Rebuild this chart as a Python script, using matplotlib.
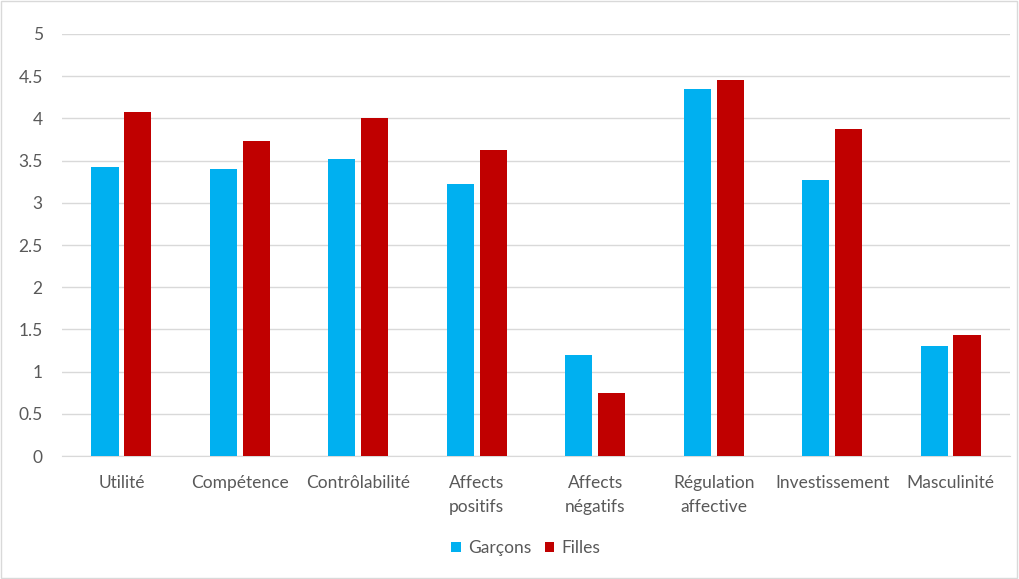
import matplotlib.pyplot as plt
import numpy as np

categories = ['Utilité', 'Compétence', 'Contrôlabilité', 'Affects\npositifs',
              'Affects\nnégatifs', 'Régulation\naffective', 'Investissement', 'Masculinité']
garcons = [3.42, 3.40, 3.52, 3.22, 1.20, 4.35, 3.27, 1.30]
filles = [4.08, 3.73, 4.00, 3.63, 0.75, 4.45, 3.87, 1.43]
yticks = [0, 0.5, 1, 1.5, 2, 2.5, 3, 3.5, 4, 4.5, 5]

plt.rcParams['font.family'] = ['Lato', 'DejaVu Sans']

fig = plt.figure(figsize=(10.19, 5.79), dpi=100)
ax = fig.add_axes([0.061, 0.2124, 0.930, 0.7289])

x = np.arange(len(categories))
w = 0.23
ax.bar(x - 0.139, garcons, w, color='#00B0F0', label='Garçons', zorder=3)
ax.bar(x + 0.139, filles, w, color='#C00000', label='Filles', zorder=3)

ax.set_xlim(-0.5, len(categories) - 0.5)
ax.set_ylim(0, 5)
ax.set_yticks(yticks)
ax.set_yticklabels([f'{v:g}' for v in yticks])
ax.set_xticks(x)
ax.set_xticklabels(categories, linespacing=1.55)
ax.tick_params(axis='both', length=0, labelsize=12.5, colors='#595959')
ax.tick_params(axis='x', pad=14)
ax.tick_params(axis='y', pad=14)
ax.grid(axis='y', color='#D9D9D9', linewidth=1, zorder=0)
for s in ['top', 'right', 'left']:
    ax.spines[s].set_visible(False)
ax.spines['bottom'].set_color('#D9D9D9')

ax.legend(loc='center', bbox_to_anchor=(0.516, 0.053), bbox_transform=fig.transFigure,
          ncol=2, frameon=False, fontsize=12.5, handlelength=0.55, handleheight=0.55,
          handletextpad=0.4, columnspacing=0.8, labelcolor='#595959')

fig.patches.append(plt.Rectangle((0.001, 0.002), 0.997, 0.996, transform=fig.transFigure,
                                 fill=False, edgecolor='#D9D9D9', linewidth=1))

fig.savefig('out.png', dpi=100)
